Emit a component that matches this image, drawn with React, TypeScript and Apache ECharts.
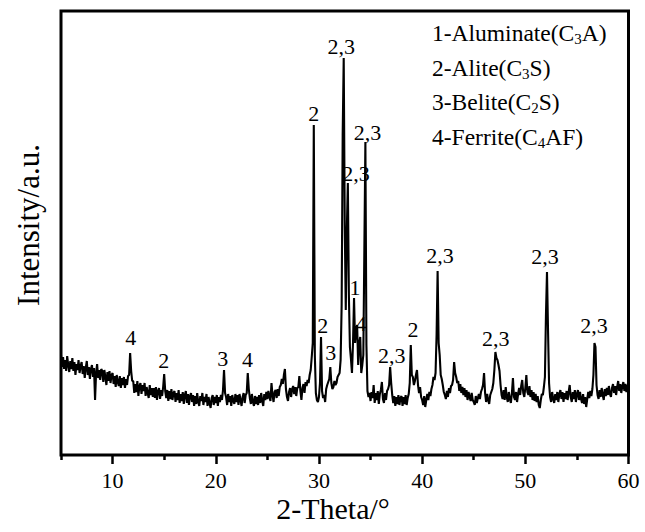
import React, { useEffect, useRef } from "react";
import * as echarts from "echarts";

// XRD scan: 2-theta from 5° to 60° in steps of 0.1°
const THETA_START = 5;
const THETA_STEP = 0.1;
const intensity: number[] = [
  100, 88, 98, 86, 95, 84, 99, 90, 83, 94, // 5
  86, 97, 84, 93, 80, 91, 85, 95, 82, 89, // 6
  93, 81, 89, 77, 87, 94, 80, 88, 76, 86, // 7
  90, 78, 87, 55, 82, 91, 77, 85, 75, 86, // 8
  84, 73, 85, 78, 70, 83, 74, 84, 72, 80, // 9
  82, 71, 79, 68, 80, 73, 69, 79, 67, 77, // 10
  70, 78, 67, 76, 70, 79, 80, 102, 84, 74, // 11
  74, 62, 71, 63, 74, 59, 69, 72, 61, 70, // 12
  64, 72, 59, 68, 62, 57, 70, 60, 67, 58, // 13
  67, 57, 68, 55, 64, 67, 56, 65, 59, 68, // 14
  81, 64, 57, 65, 54, 64, 56, 66, 55, 62, // 15
  64, 53, 62, 55, 65, 52, 61, 54, 63, 51, // 16
  60, 64, 52, 61, 50, 59, 62, 53, 60, 49, // 17
  59, 51, 62, 53, 49, 59, 54, 62, 50, 58, // 18
  53, 61, 49, 58, 52, 47, 57, 60, 50, 58, // 19
  52, 60, 49, 58, 53, 60, 55, 65, 85, 62, // 20
  58, 50, 61, 53, 59, 49, 60, 54, 51, 61, // 21
  53, 60, 50, 61, 55, 49, 58, 62, 52, 60, // 22
  62, 82, 66, 57, 51, 61, 53, 49, 59, 51, // 23
  58, 50, 60, 52, 62, 54, 49, 61, 55, 63, // 24
  56, 64, 58, 54, 72, 60, 53, 63, 65, 57, // 25
  66, 59, 68, 70, 76, 71, 80, 86, 66, 58, // 26
  54, 63, 67, 58, 66, 69, 61, 68, 59, 67, // 27
  68, 79, 64, 55, 67, 71, 62, 73, 69, 75, // 28
  72, 80, 85, 98, 112, 330, 100, 62, 55, 53, // 29
  58, 72, 118, 64, 57, 60, 53, 66, 70, 73, // 30
  76, 88, 72, 66, 68, 74, 70, 72, 78, 80, // 31
  82, 95, 150, 320, 397, 230, 145, 225, 272, 160, // 32
  108, 96, 82, 112, 157, 112, 125, 130, 90, 112, // 33
  118, 82, 90, 100, 205, 313, 110, 64, 58, 62, // 34
  54, 63, 57, 70, 52, 62, 55, 64, 51, 61, // 35
  65, 73, 56, 52, 62, 55, 64, 66, 70, 88, // 36
  72, 60, 52, 59, 49, 58, 51, 60, 50, 57, // 37
  59, 49, 58, 51, 60, 50, 57, 61, 72, 110, // 38
  80, 78, 70, 74, 80, 85, 70, 62, 68, 58, // 39
  55, 50, 59, 48, 55, 61, 55, 63, 59, 66, // 40
  70, 78, 75, 82, 120, 184, 112, 100, 80, 76, // 41
  70, 63, 60, 56, 64, 58, 67, 62, 69, 70, // 42
  75, 93, 82, 78, 72, 74, 64, 71, 62, 68, // 43
  60, 67, 58, 65, 55, 63, 58, 54, 62, 55, // 44
  53, 50, 59, 52, 57, 61, 56, 63, 66, 70, // 45
  82, 62, 53, 61, 55, 51, 60, 63, 66, 72, // 46
  85, 103, 97, 95, 90, 84, 70, 60, 56, 65, // 47
  55, 68, 58, 53, 63, 56, 52, 62, 77, 58, // 48
  55, 63, 53, 61, 67, 60, 69, 75, 62, 58, // 49
  67, 80, 63, 60, 69, 58, 65, 55, 63, 54, // 50
  61, 53, 59, 50, 47, 55, 61, 60, 68, 78, // 51
  140, 183, 125, 72, 58, 53, 63, 56, 52, 61, // 52
  55, 63, 53, 61, 65, 56, 63, 53, 62, 56, // 53
  64, 55, 63, 70, 58, 53, 63, 56, 65, 53, // 54
  61, 65, 55, 63, 56, 52, 61, 51, 58, 48, // 55
  56, 63, 57, 64, 59, 66, 80, 112, 108, 70, // 56
  60, 56, 65, 58, 67, 60, 55, 66, 59, 67, // 57
  60, 69, 61, 58, 67, 71, 62, 69, 60, 68, // 58
  74, 64, 71, 62, 69, 73, 64, 71, 63, 70, // 59
  67, // 60
];

const xTickValues = [10, 20, 30, 40, 50, 60];
const xMinorTickValues = [5, 15, 25, 35, 45, 55];

// Phase tags above the peaks (label centre position in data units)
const peakLabelTheta = [11.77, 14.96, 20.68, 23.07, 29.5, 32.17, 30.36, 31.14, 33.59, 34.71, 33.49, 34.07, 37.05, 39.12, 41.73, 47.14, 51.91, 56.66];
const peakLabelIntensity = [118, 95, 97, 96, 342, 409, 130, 103, 282, 323, 168, 132, 100, 126, 200, 117, 199, 130];
const peakLabelText = ["4", "2", "3", "4", "2", "2,3", "2", "3", "2,3", "2,3", "1", "4", "2,3", "2", "2,3", "2,3", "2,3", "2,3"];

const legendLines = [
  "1-Aluminate(C{s|3}A)",
  "2-Alite(C{s|3}S)",
  "3-Belite(C{s|2}S)",
  "4-Ferrite(C{s|4}AF)",
];

const xTitle = "2-Theta/°";
const yTitle = "Intensity/a.u.";

const FONT = '"Liberation Serif", "Times New Roman", serif';

export default function App() {
  const ref = useRef<HTMLDivElement>(null);

  useEffect(() => {
    if (!ref.current) return;
    const chart = echarts.init(ref.current, undefined, { renderer: "svg" });

    const lineData = intensity.map((v, i) => [
      Math.round((THETA_START + i * THETA_STEP) * 10) / 10,
      v,
    ]);
    const labelData = peakLabelTheta.map((t, i) => [t, peakLabelIntensity[i], peakLabelText[i]]);

    chart.setOption({
      animation: false,
      backgroundColor: "#ffffff",
      grid: {
        left: 61,
        right: 16.5,
        top: 11,
        bottom: 77,
        show: true,
        borderColor: "#000",
        borderWidth: 3,
        backgroundColor: "transparent",
      },
      xAxis: [
        {
          type: "value",
          min: 5,
          max: 60,
          position: "bottom",
          axisLine: { show: false },
          splitLine: { show: false },
          axisTick: {
            show: true,
            inside: false,
            length: 9,
            customValues: xTickValues,
            lineStyle: { color: "#000", width: 2.5 },
          },
          axisLabel: {
            show: true,
            customValues: xTickValues,
            margin: 14,
            color: "#000",
            fontSize: 22,
            fontFamily: FONT,
          },
        },
        {
          type: "value",
          min: 5,
          max: 60,
          position: "bottom",
          axisLine: { show: false },
          splitLine: { show: false },
          axisLabel: { show: false },
          axisTick: {
            show: true,
            inside: false,
            length: 5,
            customValues: xMinorTickValues,
            lineStyle: { color: "#000", width: 2.5 },
          },
        },
      ],
      yAxis: {
        type: "value",
        min: 0,
        max: 444,
        axisLine: { show: false },
        axisTick: { show: false },
        axisLabel: { show: false },
        splitLine: { show: false },
      },
      series: [
        {
          type: "line",
          xAxisIndex: 0,
          data: lineData,
          showSymbol: false,
          symbol: "none",
          lineStyle: { color: "#000", width: 2.1 },
          silent: true,
          z: 2,
        },
        {
          type: "scatter",
          xAxisIndex: 0,
          data: labelData,
          symbolSize: 0,
          silent: true,
          itemStyle: { color: "#000", opacity: 1 },
          z: 3,
          label: {
            show: true,
            position: "inside",
            formatter: (p: any) => p.data[2],
            color: "#000",
            opacity: 1,
            textBorderWidth: 0,
            textBorderColor: "transparent",
            fontSize: 22,
            fontFamily: FONT,
          },
        },
      ],
      graphic: [
        ...legendLines.map((t, i) => ({
          type: "text",
          x: 432,
          y: 33 + i * 34.7,
          silent: true,
          style: {
            text: t,
            fill: "#000",
            fontSize: 23.5,
            fontFamily: FONT,
            align: "left",
            verticalAlign: "middle",
            rich: {
              s: {
                fontSize: 15,
                fontFamily: FONT,
                fill: "#000",
                verticalAlign: "bottom",
                padding: [12, 0, 0, 0],
              },
            },
          },
        })),
        {
          type: "text",
          x: 333,
          y: 508,
          silent: true,
          style: {
            text: xTitle,
            fill: "#000",
            fontSize: 30,
            fontFamily: FONT,
            align: "center",
            verticalAlign: "middle",
          },
        },
        {
          type: "text",
          x: 28,
          y: 225,
          rotation: Math.PI / 2,
          silent: true,
          style: {
            text: yTitle,
            fill: "#000",
            fontSize: 31,
            fontFamily: FONT,
            align: "center",
            verticalAlign: "middle",
          },
        },
      ],
    });

    return () => chart.dispose();
  }, []);

  return (
    <div
      ref={ref}
      style={{ position: "fixed", left: 0, top: 0, width: 645, height: 532, background: "#fff" }}
    />
  );
}
